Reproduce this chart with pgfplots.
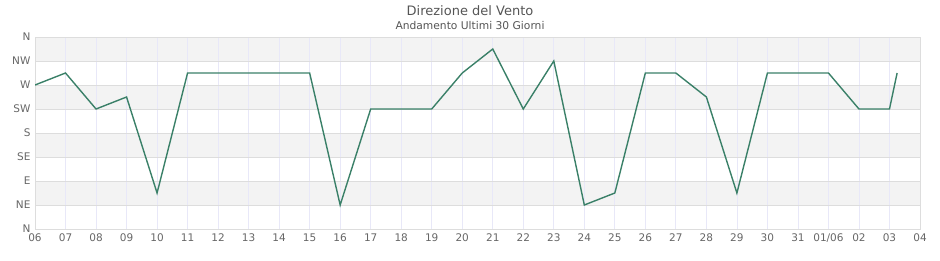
\documentclass[border=0pt]{standalone}
\usepackage{pgfplots}
\pgfplotsset{compat=1.18}
\usepackage{fontspec}
\setmainfont{DejaVu Sans}
\definecolor{linecol}{RGB}{58,128,104}
\definecolor{bandgray}{RGB}{243,243,243}
\definecolor{gridh}{RGB}{221,221,221}
\definecolor{gridv}{RGB}{232,232,248}
\definecolor{txt}{RGB}{102,102,102}
\definecolor{titlecol}{RGB}{85,85,85}
\begin{document}
\begin{tikzpicture}[x=1pt,y=1pt]
\path (0,0) rectangle (940,260);
\node[text=titlecol, font=\fontsize{13}{15}\selectfont] at (470,249.5) {Direzione del Vento};
\node[text=titlecol, font=\fontsize{10.7}{12}\selectfont] at (470,234.5) {Andamento Ultimi 30 Giorni};
\begin{axis}[
  at={(35pt,31pt)}, anchor=south west,
  width=885pt, height=192pt, scale only axis,
  set layers,
  xmin=0, xmax=29, ymin=0, ymax=360,
  xtick={0,...,29},
  xticklabels={06,07,08,09,10,11,12,13,14,15,16,17,18,19,20,21,22,23,24,25,26,27,28,29,30,31,01/06,02,03,04},
  ytick={0,45,90,135,180,225,270,315,360},
  yticklabels={N,NE,E,SE,S,SW,W,NW,N},
  major tick length=0pt,
  tick label style={text=txt, font=\fontsize{10.5}{12}\selectfont},
  xticklabel style={yshift=-1pt},
  yticklabel style={xshift=-1pt},
  xmajorgrids, ymajorgrids,
  x grid style={draw=gridv, line width=0.8pt},
  y grid style={draw=gridh, line width=0.8pt},
  axis line style={draw=gridh, line width=1pt},
]
\addplot[draw=none, fill=bandgray, on layer=axis background] coordinates {(0,315)(29,315)(29,360)(0,360)} --cycle;
\addplot[draw=none, fill=bandgray, on layer=axis background] coordinates {(0,225)(29,225)(29,270)(0,270)} --cycle;
\addplot[draw=none, fill=bandgray, on layer=axis background] coordinates {(0,135)(29,135)(29,180)(0,180)} --cycle;
\addplot[draw=none, fill=bandgray, on layer=axis background] coordinates {(0,45)(29,45)(29,90)(0,90)} --cycle;
\addplot[color=linecol, line width=1.4pt, mark=none] coordinates {
(0,270) (1,292.5) (2,225) (3,247.5) (4,67.5) (5,292.5) (6,292.5) (7,292.5) (8,292.5) (9,292.5)
(10,45) (11,225) (12,225) (13,225) (14,292.5) (15,337.5) (16,225) (17,315) (18,45) (19,67.5)
(20,292.5) (21,292.5) (22,247.5) (23,67.5) (24,292.5) (25,292.5) (26,292.5) (27,225) (28,225) (28.25,292.5)
};
\end{axis}
\end{tikzpicture}
\end{document}
